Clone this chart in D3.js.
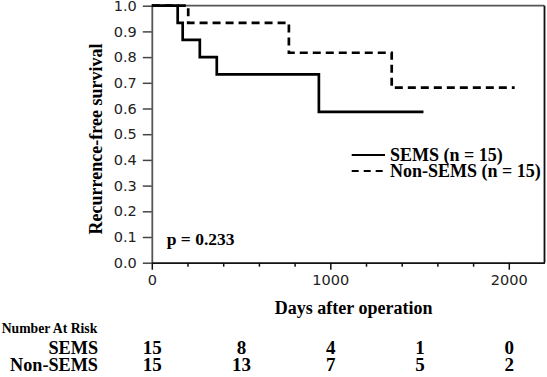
<!DOCTYPE html>
<html>
<head>
<meta charset="utf-8">
<script src="https://cdn.jsdelivr.net/npm/d3@7"></script>
<style>
  html, body { margin: 0; padding: 0; background: #fff; }
  svg { display: block; }
</style>
</head>
<body>
<svg id="chart" width="547" height="377"></svg>
<script>
// ---- Data ----
const semsTimes = [0, 145, 173, 269, 364, 936, 1522];
const semsSurv  = [1, 0.933, 0.867, 0.8, 0.733, 0.587, 0.587];
const nonSemsTimes = [0, 204, 768, 1344, 2033];
const nonSemsSurv  = [1, 0.933, 0.817, 0.681, 0.681];
const yTicks = [0, 0.1, 0.2, 0.3, 0.4, 0.5, 0.6, 0.7, 0.8, 0.9, 1.0];
const xMajorTicks = [0, 1000, 2000];
const xMinorTicks = [200, 400, 600, 800, 1200, 1400, 1600, 1800];
const riskTimes = [0, 500, 1000, 1500, 2000];
const semsRisk = [15, 8, 4, 1, 0];
const nonSemsRisk = [15, 13, 7, 5, 2];
const seriesNames = ["SEMS (n = 15)", "Non-SEMS (n = 15)"];
const pText = "p = 0.233";

const serif = "'Liberation Serif', 'Times New Roman', Times, serif";
const sans = "'DejaVu Sans', Verdana, sans-serif";

const svg = d3.select("#chart");
const x = d3.scaleLinear().domain([0, 2200]).range([151.8, 544.5]);
const y = d3.scaleLinear().domain([0, 1]).range([262.7, 5.7]);

// frame (top & right)
svg.append("line").attr("x1", x(0)).attr("x2", x(2200)).attr("y1", y(1)).attr("y2", y(1))
  .attr("stroke", "#555").attr("stroke-width", 1.8);
svg.append("line").attr("x1", x(2200)).attr("x2", x(2200)).attr("y1", y(1)).attr("y2", y(0))
  .attr("stroke", "#111").attr("stroke-width", 1.8);

// y axis
const yAxis = svg.append("g").attr("transform", `translate(${x(0)},0)`)
  .call(d3.axisLeft(y).tickValues(yTicks).tickFormat(d3.format(".1f")).tickSize(9).tickPadding(6).tickSizeOuter(0));
yAxis.select(".domain").attr("stroke", "#555").attr("stroke-width", 1.8);
yAxis.selectAll(".tick line").attr("stroke", "#444").attr("stroke-width", 1.5);
yAxis.selectAll(".tick text").attr("font-family", sans).attr("font-size", 14.5).attr("fill", "#222");

// x axis minor
const xMinor = svg.append("g").attr("transform", `translate(0,${y(0)})`)
  .call(d3.axisBottom(x).tickValues(xMinorTicks).tickSize(4).tickFormat("").tickSizeOuter(0));
xMinor.select(".domain").remove();
xMinor.selectAll(".tick line").attr("stroke", "#111").attr("stroke-width", 1.5);

// x axis major
const xAxis = svg.append("g").attr("transform", `translate(0,${y(0)})`)
  .call(d3.axisBottom(x).tickValues(xMajorTicks).tickFormat(d3.format("d")).tickSize(7).tickPadding(5).tickSizeOuter(0));
xAxis.select(".domain").attr("stroke", "#111").attr("stroke-width", 1.8);
xAxis.selectAll(".tick line").attr("stroke", "#111").attr("stroke-width", 1.5);
xAxis.selectAll(".tick text").attr("font-family", sans).attr("font-size", 14.5).attr("fill", "#222");

// curves
const line = d3.line().x(d => x(d[0])).y(d => y(d[1])).curve(d3.curveStepAfter);
svg.append("path").datum(semsTimes.map((t, i) => [t, semsSurv[i]]))
  .attr("d", line).attr("fill", "none").attr("stroke", "#000").attr("stroke-width", 2.7);
svg.append("path").datum(nonSemsTimes.map((t, i) => [t, nonSemsSurv[i]]))
  .attr("d", line).attr("fill", "none").attr("stroke", "#000").attr("stroke-width", 2.7)
  .attr("stroke-dasharray", "8,5");

// legend
const legY = [155, 171];
svg.append("line").attr("x1", 351.7).attr("x2", 385).attr("y1", legY[0]).attr("y2", legY[0])
  .attr("stroke", "#000").attr("stroke-width", 2);
svg.append("line").attr("x1", 351.7).attr("x2", 385).attr("y1", legY[1]).attr("y2", legY[1])
  .attr("stroke", "#000").attr("stroke-width", 2).attr("stroke-dasharray", "7,5");
seriesNames.forEach((n, i) => {
  svg.append("text").attr("x", 390).attr("y", legY[i] + 6)
    .attr("font-family", serif).attr("font-weight", "bold").attr("font-size", 18)
    .attr("fill", "#000").text(n);
});

// p value
svg.append("text").attr("x", 166.7).attr("y", 245)
  .attr("font-family", serif).attr("font-weight", "bold").attr("font-size", 17.5)
  .attr("fill", "#000").text(pText);

// axis titles
svg.append("text").attr("x", 353.6).attr("y", 314).attr("text-anchor", "middle")
  .attr("font-family", serif).attr("font-weight", "bold").attr("font-size", 18)
  .attr("fill", "#000").text("Days after operation");
svg.append("text").attr("transform", "translate(101.5,139) rotate(-90)").attr("text-anchor", "middle")
  .attr("font-family", serif).attr("font-weight", "bold").attr("font-size", 18)
  .attr("fill", "#000").text("Recurrence-free survival");

// number at risk table
svg.append("text").attr("x", 1.7).attr("y", 333)
  .attr("font-family", serif).attr("font-weight", "bold").attr("font-size", 13.7)
  .attr("fill", "#000").text("Number At Risk");
const rows = [["SEMS", semsRisk, 353.5], ["Non-SEMS", nonSemsRisk, 371]];
rows.forEach(([label, vals, yy]) => {
  svg.append("text").attr("x", 98).attr("y", yy).attr("text-anchor", "end")
    .attr("font-family", serif).attr("font-weight", "bold").attr("font-size", 18.2)
    .attr("fill", "#000").text(label);
  svg.append("g").selectAll("text").data(vals).join("text")
    .attr("x", (d, i) => x(riskTimes[i]) + 0.5).attr("y", yy).attr("text-anchor", "middle")
    .attr("font-family", serif).attr("font-weight", "bold").attr("font-size", 19)
    .attr("fill", "#000").text(d => d);
});
</script>
</body>
</html>
